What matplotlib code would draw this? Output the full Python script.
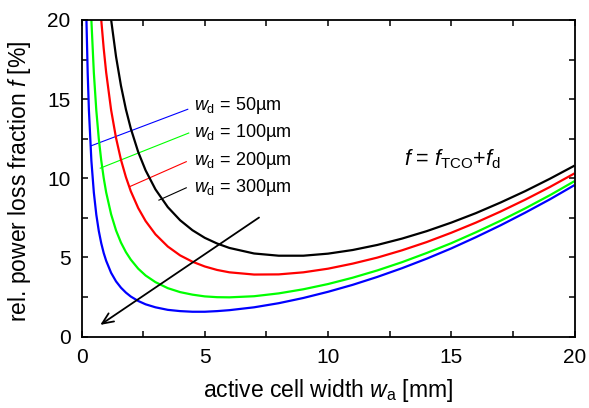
import matplotlib.pyplot as plt
import numpy as np
from matplotlib.ticker import MultipleLocator

plt.rcParams["font.family"] = "Liberation Sans"
plt.rcParams["mathtext.fontset"] = "custom"
plt.rcParams["mathtext.rm"] = "Liberation Sans"
plt.rcParams["mathtext.it"] = "Liberation Sans:italic"

# values (active cell width in mm, loss in %)
x_tail = [5.5, 6, 7, 8, 9, 10, 11, 12, 13, 14, 15, 16, 17, 18, 19, 20]

x_50 = [0.15, 0.2, 0.25, 0.3, 0.4, 0.5, 0.6, 0.7, 0.8, 0.9, 1.0, 1.2, 1.4, 1.6,
        1.8, 2.0, 2.3, 2.6, 3.0, 3.5, 4.0, 4.5, 5] + x_tail
f_50 = [25.0, 20.0, 16.67, 14.29, 11.11, 9.10, 7.70, 6.68, 5.90, 5.28, 4.79, 4.03,
        3.49, 3.09, 2.78, 2.53, 2.25, 2.04, 1.85, 1.69, 1.61, 1.57, 1.57,
        1.61, 1.67, 1.85, 2.11, 2.44, 2.83, 3.27, 3.77, 4.32, 4.92, 5.57, 6.28,
        7.03, 7.83, 8.67, 9.57]

x_100 = [0.3, 0.4, 0.5, 0.6, 0.7, 0.8, 0.9, 1.0, 1.2, 1.4, 1.6, 1.8, 2.0, 2.3,
         2.6, 3.0, 3.5, 4.0, 4.5, 5] + x_tail
f_100 = [25.0, 20.0, 16.67, 14.29, 12.51, 11.13, 10.02, 9.11, 7.73, 6.71, 5.94,
         5.34, 4.86, 4.29, 3.86, 3.44, 3.06, 2.81, 2.65, 2.54,
         2.49, 2.48, 2.55, 2.73, 2.99, 3.32, 3.72, 4.18, 4.70, 5.28, 5.90, 6.59,
         7.32, 8.10, 8.93, 9.82]

x_200 = [0.6, 0.7, 0.8, 0.9, 1.0, 1.2, 1.4, 1.6, 1.8, 2.0, 2.3, 2.6, 3.0, 3.5,
         4.0, 4.5, 5] + x_tail
f_200 = [25.0, 22.23, 20.01, 18.20, 16.69, 14.32, 12.55, 11.17, 10.08, 9.18, 8.12,
         7.30, 6.46, 5.69, 5.13, 4.73, 4.43,
         4.21, 4.06, 3.92, 3.93, 4.06, 4.29, 4.61, 4.99, 5.45, 5.97, 6.56, 7.20,
         7.90, 8.65, 9.45, 10.31]

x_300 = [1.0, 1.2, 1.4, 1.6, 1.8, 2.0, 2.3, 2.6, 3.0, 3.5, 4.0, 4.5, 5] + x_tail
f_300 = [23.10, 20.03, 17.69, 15.85, 14.36, 13.14, 11.66, 10.50, 9.30, 8.18, 7.35,
         6.72, 6.24,
         5.88, 5.60, 5.25, 5.11, 5.11, 5.24, 5.47, 5.79, 6.19, 6.66, 7.20, 7.80,
         8.47, 9.19, 9.97, 10.80]

series = [
    (x_50, f_50, "#0000ff", "50µm", (0.37, 12.04), (4.31, 14.36), 14.6),
    (x_100, f_100, "#00ff00", "100µm", (0.76, 10.64), (4.35, 12.86), 12.9),
    (x_200, f_200, "#ff0000", "200µm", (1.95, 9.47), (4.25, 11.05), 11.1),
    (x_300, f_300, "#000000", "300µm", (3.14, 8.62), (4.25, 9.40), 9.4),
]

fig = plt.figure(figsize=(5.89, 4.08), dpi=100)
ax = fig.add_axes([0.1384, 0.175, 0.8370, 0.776])

for xs, fs, col, lab, p0, p1, ty in series:
    ax.plot(xs, fs, color=col, lw=1.6, solid_capstyle="butt")
    ax.plot([p0[0], p1[0]], [p0[1], p1[1]], color=col, lw=0.8)
    ax.text(4.55, ty, r"$w_\mathrm{d}$ = " + lab, fontsize=13, va="center", ha="left")

ax.text(13.1, 11.2, r"$f$ = $f_\mathrm{TCO}$+$f_\mathrm{d}$", fontsize=15.5,
        va="center", ha="left")

ax.annotate("", xy=(0.76, 0.74), xytext=(7.2, 7.52),
            arrowprops=dict(arrowstyle="->,head_length=0.8,head_width=0.35",
                            color="black", lw=1.3, shrinkA=0, shrinkB=0))

ax.set_xlim(0, 20)
ax.set_ylim(0, 20)
ax.xaxis.set_major_locator(MultipleLocator(5))
ax.xaxis.set_minor_locator(MultipleLocator(2.5))
ax.yaxis.set_major_locator(MultipleLocator(5))
ax.yaxis.set_minor_locator(MultipleLocator(2.5))
ax.tick_params(which="both", direction="in", top=True, right=True,
               length=4, width=1.1, labelsize=15, pad=8)
for sp in ax.spines.values():
    sp.set_linewidth(1.3)

ax.set_xlabel(r"active cell width $w_\mathrm{a}$ [mm]", fontsize=16.5)
ax.set_ylabel(r"rel. power loss fraction $f$ [%]", fontsize=16.5)
ax.xaxis.set_label_coords(0.5, -0.128)
ax.yaxis.set_label_coords(-0.098, 0.49)

fig.savefig("out.png", dpi=100)
